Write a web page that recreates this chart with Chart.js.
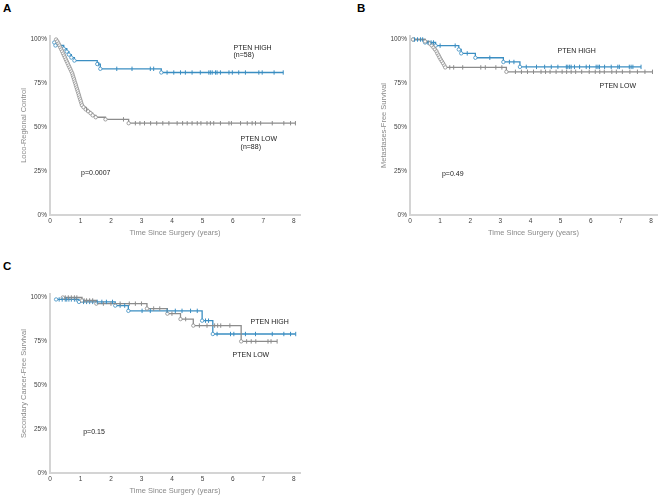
<!DOCTYPE html>
<html>
<head>
<meta charset="utf-8">
<script src="https://cdn.jsdelivr.net/npm/chart.js@4/dist/chart.umd.min.js"></script>
<style>
  body { margin: 0; background: #fff; width: 662px; height: 498px; position: relative; overflow: hidden; }
  .panel { position: absolute; }
  .tag { position: absolute; font: bold 11.5px "Liberation Sans", Arial, sans-serif; line-height: 12px; color: #000; }
</style>
</head>
<body>
<div class="tag" style="left:3px;top:2px">A</div>
<div class="tag" style="left:357px;top:2px">B</div>
<div class="tag" style="left:3px;top:260px">C</div>
<div class="panel" style="left:0;top:0;width:330px;height:240px"><canvas id="chartA"></canvas></div>
<div class="panel" style="left:330px;top:0;width:332px;height:240px"><canvas id="chartB"></canvas></div>
<div class="panel" style="left:0;top:258px;width:330px;height:240px"><canvas id="chartC"></canvas></div>
<script>
// Panel A - loco-regional control (survival in %)
const aHighTimes = [0.14, 0.18, 0.45, 0.55, 0.62, 0.70, 0.80, 1.55, 1.65, 3.65];
const aHighSurv = [98.3, 96.6, 94.8, 93.1, 91.4, 89.7, 88.0, 86.0, 83.3, 81.2];
const aHighCensor = [1.6, 2.19, 2.69, 3.29, 3.40, 3.84, 4.06, 4.28, 4.44, 4.66, 4.93, 5.21, 5.26, 5.32, 5.43, 5.48, 5.59, 5.87, 5.98, 6.19, 6.41, 6.85, 6.96, 7.35, 7.65];
const aLowTimes = [0.20, 0.24, 0.28, 0.31, 0.34, 0.37, 0.40, 0.43, 0.46, 0.49, 0.52, 0.55, 0.58, 0.61, 0.64, 0.67, 0.70, 0.73, 0.75, 0.77, 0.79, 0.81, 0.83, 0.85, 0.87, 0.89, 0.91, 0.93, 0.95, 0.97, 0.99, 1.01, 1.03, 1.05, 1.10, 1.17, 1.25, 1.33, 1.40, 1.50, 1.82, 2.58];
const aLowSurv = [100, 98.9, 97.7, 96.6, 95.4, 94.3, 93.2, 92.0, 90.9, 89.8, 88.6, 87.5, 86.4, 85.2, 84.1, 83.0, 81.8, 80.7, 79.5, 78.4, 77.3, 76.1, 75.0, 73.9, 72.7, 71.6, 70.5, 69.3, 68.2, 67.0, 65.9, 64.8, 63.6, 62.5, 61.4, 60.2, 59.1, 58.0, 56.8, 55.7, 54.5, 52.3];
const aLowCensor = [1.2, 2.41, 2.8, 2.95, 3.1, 3.3, 3.5, 3.7, 3.9, 4.17, 4.35, 4.5, 4.66, 4.83, 4.95, 5.15, 5.26, 5.37, 5.59, 5.87, 5.95, 6.25, 6.47, 6.63, 6.74, 6.91, 7.29, 7.67, 7.89, 8.05];

// Panel B - metastases-free survival
const bHighTimes = [0.11, 0.50, 0.85, 1.62, 1.70, 2.17, 3.10, 3.65];
const bHighSurv = [100, 98.3, 96.5, 94.3, 92.1, 89.6, 87.2, 84.4];
const bHighCensor = [0.15, 0.25, 0.35, 0.42, 0.6, 0.7, 0.78, 1.0, 1.5, 1.9, 2.65, 3.3, 3.45, 3.86, 4.2, 4.47, 4.69, 4.91, 5.19, 5.24, 5.3, 5.35, 5.46, 5.63, 5.85, 5.96, 6.18, 6.24, 6.29, 6.46, 6.68, 6.9, 6.95, 7.28, 7.34, 7.4, 7.67];
const bLowTimes = [0.10, 0.50, 0.65, 0.72, 0.78, 0.83, 0.88, 0.91, 0.95, 0.98, 1.02, 1.06, 1.10, 1.14, 1.17, 3.20];
const bLowSurv = [100, 98.9, 97.7, 96.6, 95.4, 94.3, 93.2, 92.0, 90.9, 89.8, 88.6, 87.5, 86.4, 85.2, 84.1, 81.6];
const bLowCensor = [1.32, 1.45, 1.75, 2.35, 2.5, 2.85, 3.05, 3.5, 3.7, 3.9, 4.1, 4.35, 4.5, 4.65, 4.85, 5.05, 5.2, 5.35, 5.5, 5.7, 5.95, 6.15, 6.3, 6.45, 6.7, 6.85, 7.05, 7.3, 7.55, 7.8, 8.05];

// Panel C - secondary cancer-free survival
const cHighTimes = [0.20, 0.95, 2.14, 2.57, 4.99, 5.34];
const cHighSurv = [98.9, 97.5, 95.4, 92.4, 86.8, 79.2];
const cHighCensor = [0.3, 0.4, 0.5, 0.55, 0.62, 0.7, 0.8, 0.86, 1.1, 1.2, 1.3, 1.4, 1.55, 1.7, 1.85, 2.05, 2.3, 2.45, 3.02, 3.29, 3.84, 4.11, 4.33, 4.61, 4.83, 5.1, 5.2, 5.48, 5.92, 6.03, 6.41, 6.74, 7.29, 7.67, 7.89, 8.06];
const cLowTimes = [0.42, 1.05, 1.52, 3.18, 3.85, 4.28, 4.70, 6.27];
const cLowSurv = [100, 98.3, 96.5, 93.7, 90.8, 87.7, 84.0, 75.0];
const cLowCensor = [0.5, 0.6, 0.7, 0.8, 0.88, 1.12, 1.2, 1.3, 1.4, 1.75, 2.0, 2.3, 2.6, 2.8, 3.0, 3.4, 3.6, 4.0, 4.45, 4.9, 5.15, 5.4, 5.5, 5.6, 5.9, 6.45, 6.6, 6.75, 7.15, 7.25, 7.45];

const xTicks = [0, 1, 2, 3, 4, 5, 6, 7, 8];
const yTicks = [0, 25, 50, 75, 100];

const BLUE = '#3b8ec2';
const GRAY = '#8c8c8c';
const FONT = '"Liberation Sans", Arial, sans-serif';
Chart.defaults.font.family = FONT;

// survival value at time t (step function)
function survAt(times, surv, t) {
    let s = surv[0];
    for (let i = 0; i < times.length; i++) {
        if (times[i] <= t) s = surv[i];
    }
    return s;
}

function kmDatasets(times, surv, censor, color) {
    const pts = times.map((t, i) => ({ x: t, y: surv[i] }));
    const lastCensor = Math.max(...censor);
    if (lastCensor > times[times.length - 1]) {
        pts.push({ x: lastCensor, y: surv[surv.length - 1] });
    }
    const lastIdx = pts.length - 1;
    return [
        {
            data: censor.map(t => ({ x: t, y: survAt(times, surv, t) })),
            showLine: false,
            pointStyle: 'line',
            rotation: 90,
            pointRadius: 2.2,
            pointBorderWidth: 1,
            pointBorderColor: color,
            borderColor: color,
            order: 0
        },
        {
            data: pts,
            stepped: 'before',
            borderColor: color,
            borderWidth: 1.3,
            pointRadius: ctx => ctx.dataIndex === lastIdx ? 0 : 1.7,
            pointBackgroundColor: '#fff',
            pointBorderColor: color,
            pointBorderWidth: 0.8,
            order: 1
        }
    ];
}

// free text: group names and p-values
const kmText = {
    id: 'kmText',
    afterDatasetsDraw(chart, args, opts) {
        const { ctx, scales: { x, y } } = chart;
        ctx.save();
        ctx.font = '7px ' + FONT;
        ctx.fillStyle = '#222';
        ctx.textBaseline = 'middle';
        (opts.items || []).forEach(it => {
            ctx.fillText(it.text, x.getPixelForValue(it.x), y.getPixelForValue(it.y));
        });
        ctx.restore();
    }
};

function makeChart(id, yTitle, high, low, labels, padLeft, padRight) {
    const ctx = document.getElementById(id).getContext('2d');
    return new Chart(ctx, {
        type: 'line',
        data: {
            datasets: [
                ...kmDatasets(low[0], low[1], low[2], GRAY),
                ...kmDatasets(high[0], high[1], high[2], BLUE)
            ]
        },
        options: {
            responsive: true,
            maintainAspectRatio: false,
            animation: false,
            layout: { padding: { left: padLeft, right: padRight, top: 36, bottom: 0 } },
            plugins: {
                legend: { display: false },
                tooltip: { enabled: false },
                kmText: { items: labels }
            },
            scales: {
                x: {
                    type: 'linear',
                    min: 0,
                    max: 8.2,
                    afterFit: s => { s.height = 25; },
                    afterBuildTicks: s => { s.ticks = xTicks.map(v => ({ value: v })); },
                    grid: { display: false, drawTicks: false },
                    border: { color: '#d4d4d4', width: 2 },
                    ticks: { padding: 2, color: '#444', font: { size: 6.5 } },
                    title: {
                        display: true,
                        text: 'Time Since Surgery (years)',
                        color: '#8a8a8a',
                        font: { size: 7.5 },
                        padding: { top: 0, bottom: 3 }
                    }
                },
                y: {
                    min: 0,
                    max: 102,
                    afterFit: s => { s.width = 50; },
                    afterBuildTicks: s => { s.ticks = yTicks.map(v => ({ value: v })); },
                    grid: { display: false, drawTicks: false },
                    border: { color: '#d4d4d4', width: 2 },
                    ticks: { padding: 3, color: '#444', font: { size: 6.5 }, callback: v => v + '%' },
                    title: {
                        display: true,
                        text: yTitle,
                        color: '#8a8a8a',
                        font: { size: 7.5 },
                        padding: { top: 19, bottom: 0 }
                    }
                }
            }
        },
        plugins: [kmText]
    });
}

makeChart('chartA', 'Loco-Regional Control',
    [aHighTimes, aHighSurv, aHighCensor], [aLowTimes, aLowSurv, aLowCensor],
    [
        { text: 'PTEN HIGH', x: 6.02, y: 95.4 },
        { text: '(n=58)', x: 6.02, y: 90.9 },
        { text: 'PTEN LOW', x: 6.25, y: 43.4 },
        { text: '(n=88)', x: 6.25, y: 38.9 },
        { text: 'p=0.0007', x: 1.02, y: 24 }
    ], 0, 30);

makeChart('chartB', 'Metastases-Free Survival',
    [bHighTimes, bHighSurv, bHighCensor], [bLowTimes, bLowSurv, bLowCensor],
    [
        { text: 'PTEN HIGH', x: 4.9, y: 93.7 },
        { text: 'PTEN LOW', x: 6.29, y: 73.7 },
        { text: 'p=0.49', x: 1.06, y: 23.4 }
    ], 30, 4);

makeChart('chartC', 'Secondary Cancer-Free Survival',
    [cHighTimes, cHighSurv, cHighCensor], [cLowTimes, cLowSurv, cLowCensor],
    [
        { text: 'PTEN HIGH', x: 6.58, y: 85.9 },
        { text: 'PTEN LOW', x: 5.99, y: 67.4 },
        { text: 'p=0.15', x: 1.09, y: 23.4 }
    ], 0, 30);
</script>
</body>
</html>
